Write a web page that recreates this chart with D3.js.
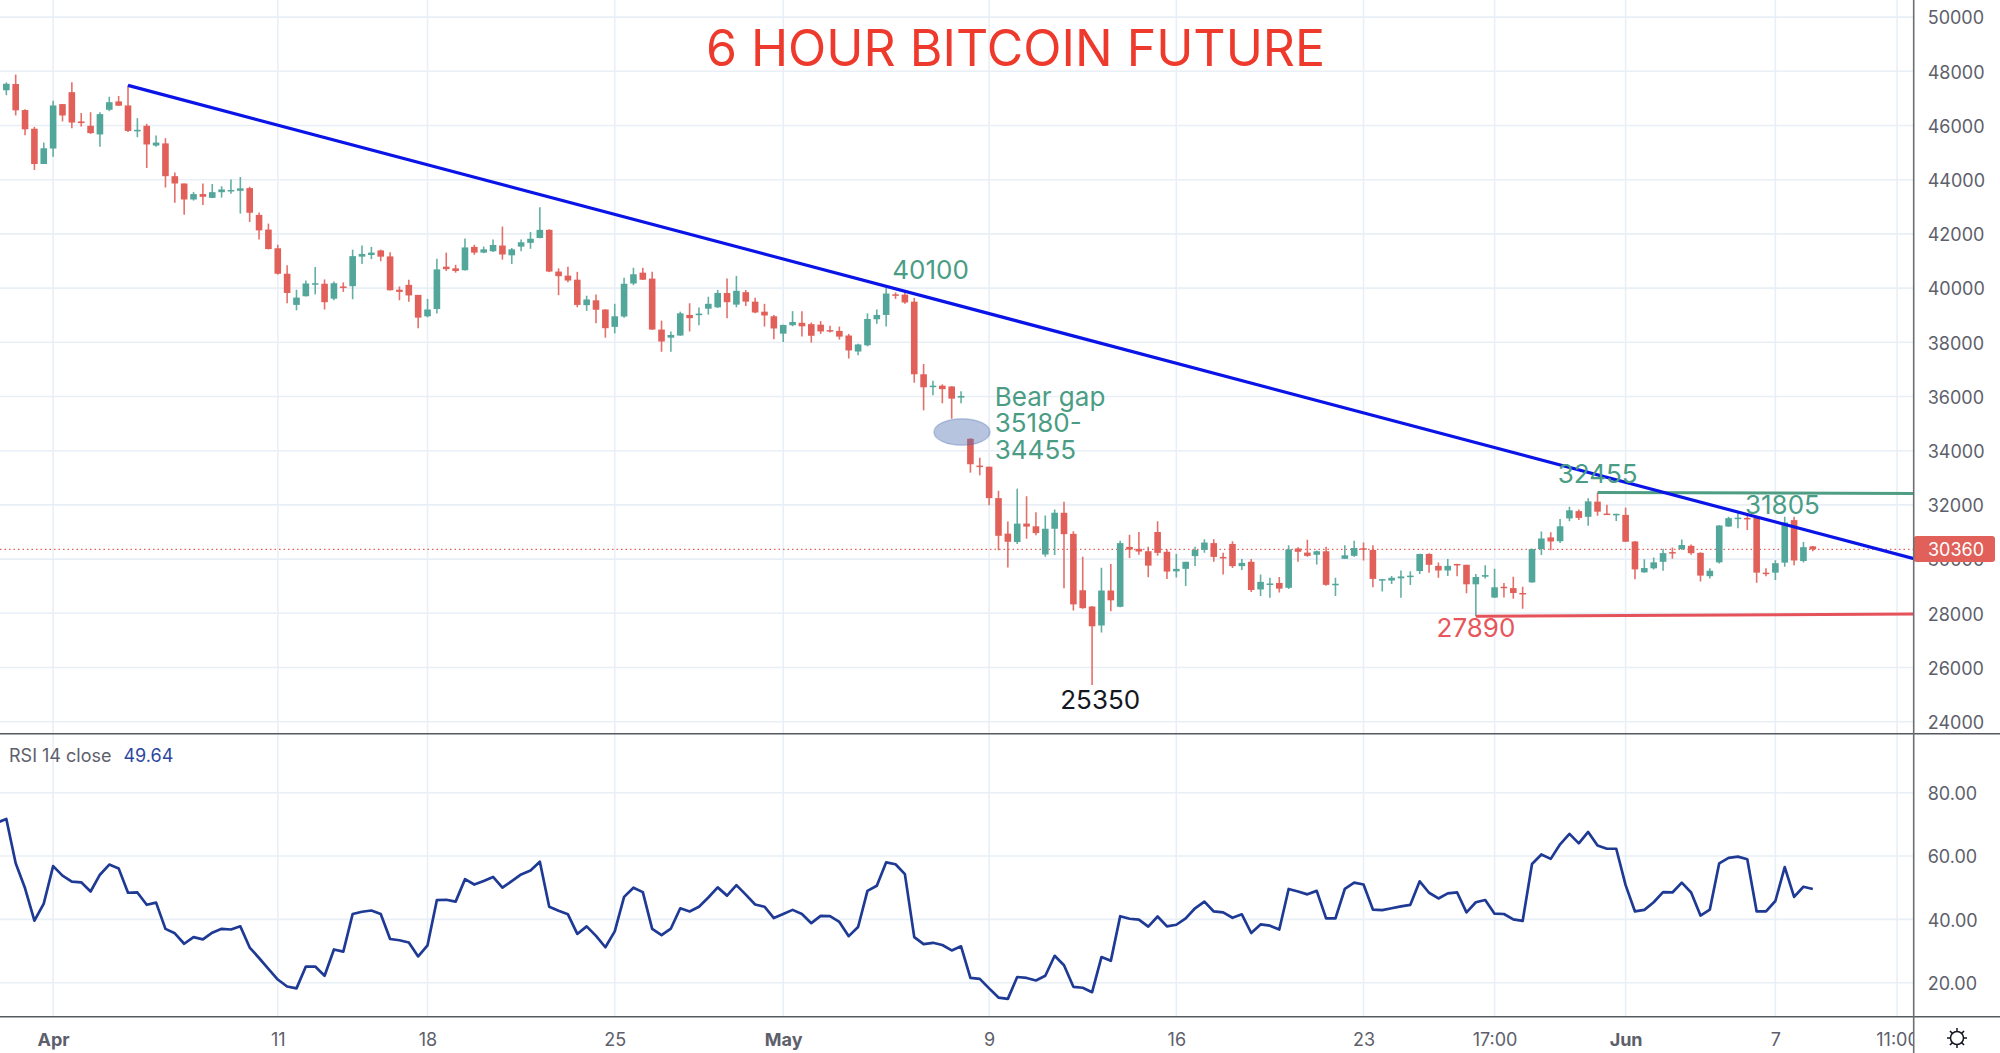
<!DOCTYPE html>
<html><head><meta charset="utf-8">
<script src="https://cdn.jsdelivr.net/npm/d3@7"></script>
<style>html,body{margin:0;padding:0;background:#fff;overflow:hidden}svg{display:block}text{font-family:Inter,"Liberation Sans",sans-serif}</style>
</head><body><svg id="c" width="2000" height="1053"></svg>
<script>
const opens=[47300,47530,46570,45880,44580,45150,46790,47230,46150,45990,
45670,46580,46890,46740,45800,45990,45260,45340,44130,43860,
43270,43470,43330,43540,43580,43590,43690,42700,42160,41470,
40530,39380,39700,40150,40160,39610,40060,40070,41160,41220,
41390,41170,39940,40120,39750,38960,39230,40790,40730,40660,
41520,41310,41360,41570,41210,41530,41670,41850,42150,40610,
40460,40310,39370,39550,39210,38570,38950,40170,40570,40350,
38470,38170,38250,39010,39000,39240,39290,39820,39390,39850,
39500,39130,38960,38320,38630,38720,38670,38650,38450,38420,
38250,37660,37890,38850,39010,39770,39760,39500,36820,36370,
36400,36370,35960,34440,33450,33410,32250,30940,30630,31310,
31210,30170,31120,31710,30930,28850,28250,27550,28840,28240,
30450,30380,30290,31000,30270,29550,29640,30110,30340,30590,
30080,30560,29740,29900,28880,29050,29120,28940,30390,30240,
30160,30290,29050,30010,30120,30400,30340,29220,29210,29290,
29340,29560,30190,29750,29580,29820,29790,29070,29350,28580,
28980,28930,28750,29140,30370,30800,30660,31500,31770,31560,
32120,31680,31630,31630,30650,29510,29660,29900,30260,30370,
30490,30230,29370,29880,31200,31500,31520,31520,29500,29500,
29870,31440,29930,30470];
const highs=[47590,47880,46600,45950,45370,46910,46790,47600,46460,46490,
46490,47060,47090,47480,46270,46060,45630,45530,44270,43860,
43550,43860,43840,43760,44010,44100,43740,42790,42380,41600,
40840,39940,40280,40780,40320,40240,40210,41420,41570,41520,
41420,41320,40060,40310,39750,39600,41080,41310,40860,41830,
41600,41530,41790,42270,41480,41790,42070,42980,42170,40730,
40790,40600,39720,39760,39220,39420,40380,40750,40750,40600,
38800,38400,39130,39440,39280,39680,39930,40350,40450,39930,
39640,39420,39010,38650,39150,39150,38730,38780,38610,38580,
38310,37950,39070,39210,40100,39840,39860,39640,37200,36580,
36450,36380,36190,34455,33740,33410,32520,31390,32600,32320,
31730,31610,31830,32120,31030,30090,28270,29680,29820,30680,
30900,31000,30460,31400,30360,30190,29900,30460,30730,30730,
30230,30660,30000,30000,29430,29310,29340,30510,30440,30710,
30320,30460,29310,30510,30680,30610,30510,29270,29380,29580,
29550,30200,30220,29870,30000,29830,29790,29450,29770,29640,
29120,29350,28980,30390,31020,30990,31480,31930,31830,32250,
32455,32010,31670,31900,30670,29990,30060,30380,30430,30720,
30540,30250,29660,31250,31560,31750,31620,31530,29660,29960,
31560,31560,30630,30480];
const lows=[47120,46370,45640,44360,44580,44850,46150,45900,45960,45690,
45220,46530,46730,45760,45570,44430,45220,43710,43150,42710,
43230,43070,43320,43340,43480,42750,42440,41790,41430,40500,
39440,39180,39690,39770,39210,39550,39860,39590,40890,41070,
40990,39910,39550,39500,38520,38920,39060,40630,40570,40650,
41230,41290,41330,41050,40890,41360,41450,41840,40590,39740,
40220,39290,39160,38700,38170,38330,38910,40110,40300,38460,
37650,37650,38240,38400,38630,39020,39270,38890,39290,39340,
39070,38580,38110,38010,38590,38210,37990,38310,38360,38100,
37400,37520,37850,38680,38580,39600,39420,36510,35490,36050,
35750,35180,35750,33190,33090,31990,30330,29690,30560,30750,
30880,30090,30150,28920,28100,28170,25350,27290,28080,28220,
30040,30160,29330,30120,29270,29320,29010,29750,30230,29900,
29430,29670,29600,28790,28640,28570,28770,28900,29900,30090,
29800,29020,28640,30000,30090,29950,28960,28800,29080,28570,
29040,29450,29500,29310,29380,29370,28740,27890,29280,28560,
28580,28540,28170,29130,30150,30330,30590,31400,31440,31230,
31600,31640,31410,30640,29260,29500,29620,29570,30010,30340,
30160,29170,29280,29840,31190,31140,31070,29130,29370,29230,
29720,29770,29870,30290];
const closes=[47540,46560,45860,44580,45160,46740,46370,46110,46090,45720,
46420,46860,46730,45800,45840,45300,45370,44130,43860,43270,
43470,43370,43540,43640,43620,43680,42780,42130,41440,40530,
39820,39650,40170,40180,39480,40180,40020,41180,41260,41310,
41160,39920,39860,39730,38910,39210,40690,40700,40630,41500,
41310,41430,41590,41240,41430,41690,41820,42150,40610,40440,
40280,39380,39580,39200,38520,38960,40160,40510,40310,38470,
38030,38270,39070,38890,39060,39420,39820,39480,39900,39500,
39100,38990,38510,38640,38750,38590,38240,38400,38410,38210,
37700,37920,38860,39010,39800,39720,39470,36820,36340,36400,
36270,35920,36020,33500,33400,32250,30860,30640,31310,31200,
30960,31120,31710,30920,28330,28190,27520,28840,28480,30590,
30350,30280,29760,30230,29540,29640,29900,30340,30610,30080,
30040,29740,29860,28860,29160,29100,28910,30360,30270,30120,
30290,29050,29090,30140,30410,30350,29270,29260,29310,29360,
29390,30190,29790,29580,29750,29770,29070,29340,29410,28960,
28940,28750,28710,30370,30760,30650,31210,31800,31520,32130,
31750,31660,31670,30640,29620,29670,29880,30220,30220,30520,
30220,29390,29570,31240,31510,31530,31480,29500,29460,29850,
31350,29950,30440,30360];
// RSI: first value belongs to the bar just before the first candle
const rsiStart=-1;
const rsi=[70.5,71.7,57.7,49.8,39.6,45.0,56.8,53.8,51.9,51.7,
48.8,54.1,57.3,56.1,48.4,48.5,44.6,45.3,37.0,35.6,
32.3,34.4,33.7,35.8,37.0,36.8,37.8,31.1,27.8,24.4,
21.0,18.8,18.2,25.1,25.1,22.2,30.5,29.8,41.7,42.4,
42.8,41.7,33.8,33.4,32.7,28.3,31.8,46.1,46.2,45.6,
52.7,51.0,52.1,53.4,50.0,52.1,54.2,55.4,58.2,44.0,
42.7,41.6,35.4,37.8,34.8,31.2,36.2,47.1,50.0,48.6,
37.0,35.0,37.1,43.5,42.5,44.0,
46.9,50.1,47.5,50.8,47.8,44.7,44.0,40.4,41.7,43.0,
41.7,38.8,41.1,41.0,39.2,34.7,37.6,49.0,50.6,58.0,
57.4,54.3,34.4,32.2,32.6,31.9,30.2,31.5,21.5,21.2,
18.2,15.3,14.9,21.8,21.5,20.7,22.2,28.5,25.5,18.7,
18.4,17.0,28.1,26.9,41.0,40.2,39.9,37.7,40.9,37.8,
38.3,40.3,43.5,45.6,42.5,42.2,40.5,41.6,35.7,38.4,
38.0,36.8,49.6,48.8,47.9,49.0,40.3,40.3,49.6,51.6,
51.0,43.1,42.9,43.5,
44.1,44.6,52.0,48.4,46.6,48.2,48.5,42.2,45.4,46.1,
41.8,41.7,40.0,39.5,57.5,60.5,59.1,63.7,67.0,64.0,
67.6,63.3,62.3,62.3,50.8,42.5,43.0,45.4,48.6,48.5,
51.6,48.5,41.2,43.1,57.7,59.4,59.8,59.0,42.5,42.5,
45.8,56.5,47.1,50.3,49.6];
const priceTicks=[50000,48000,46000,44000,42000,40000,38000,36000,34000,32000,30000,28000,26000,24000];
const rsiTicks=[80,60,40,20];
const timeIdx=[5,29,45,65,83,105,125,145,159,173,189,202];
const timeLabels=["Apr","11","18","25","May","9","16","23","17:00","Jun","7","11:00"];
const timeBold=["Apr","May","Jun"];
const trendIdx=[13,203.8], trendPrice=[47480,30015];
const greenIdx=[170,203.8], greenPrice=[32455,32420];
const redIdx=[157,203.8], redPrice=[27890,27975];
const gapIdx=102.1, gapPrice=34690, gapRxBars=3, gapRyPrice=490;
const lastPrice=30360, rsiLast="49.64", rsiName="RSI 14 close";
const title="6 HOUR BITCOIN FUTURE";
const notes=[
 {t:"40100",i:94.65,p:40325,c:"#4a9d84"},
 {t:"Bear gap",i:105.6,p:35650,c:"#4a9d84"},
 {t:"35180-",i:105.6,p:34690,c:"#4a9d84"},
 {t:"34455",i:105.6,p:33685,c:"#4a9d84"},
 {t:"32455",i:165.75,p:32820,c:"#4a9d84"},
 {t:"31805",i:185.75,p:31665,c:"#4a9d84"},
 {t:"27890",i:152.8,p:27110,c:"#e8555a"},
 {t:"25350",i:112.6,p:24460,c:"#131722"}
];

const W=2000,H=1053,axisX=1913.7,paneTop=733.7,paneBot=1016.7;
const x=d3.scaleLinear().domain([0,202]).range([6.33,1897.05]);
const y=d3.scaleLinear().domain([48000,28000]).range([71.3,613.3]);
const yr=d3.scaleLinear().domain([80,20]).range([792.7,982.7]);
const svg=d3.select("#c");
const defs=svg.append("defs");
defs.append("clipPath").attr("id","mainClip").append("rect").attr("x",0).attr("y",0).attr("width",axisX).attr("height",paneTop);
defs.append("clipPath").attr("id","rsiClip").append("rect").attr("x",0).attr("y",paneTop).attr("width",axisX).attr("height",paneBot-paneTop);
defs.append("clipPath").attr("id","timeClip").append("rect").attr("x",0).attr("y",paneBot).attr("width",axisX).attr("height",H-paneBot);
const gridC="#e9eff6";

// grids
const gv=svg.append("g").attr("stroke",gridC).attr("stroke-width",1.6);
gv.selectAll("line").data(timeIdx).join("line").attr("x1",d=>x(d)).attr("x2",d=>x(d)).attr("y1",0).attr("y2",paneBot);
const gh=svg.append("g").attr("stroke",gridC).attr("stroke-width",1.6);
gh.selectAll("line.p").data(priceTicks).join("line").attr("class","p").attr("x1",0).attr("x2",axisX).attr("y1",d=>y(d)).attr("y2",d=>y(d));
gh.selectAll("line.r").data(rsiTicks).join("line").attr("class","r").attr("x1",0).attr("x2",axisX).attr("y1",d=>yr(d)).attr("y2",d=>yr(d));

// last price dotted
svg.append("line").attr("x1",0).attr("x2",axisX).attr("y1",y(lastPrice)).attr("y2",y(lastPrice))
 .attr("stroke","#e8605a").attr("stroke-width",1.2).attr("stroke-dasharray","1.5 3");

// candles
const up="#53a69a",down="#e1605a";
const bars=d3.range(opens.length);
const gm=svg.append("g").attr("clip-path","url(#mainClip)");
gm.selectAll("line.w").data(bars).join("line").attr("class","w")
 .attr("x1",i=>x(i)).attr("x2",i=>x(i)).attr("y1",i=>y(highs[i])).attr("y2",i=>y(lows[i]))
 .attr("stroke",i=>closes[i]>=opens[i]?up:down).attr("stroke-width",1.6).attr("stroke-opacity",.9);
gm.selectAll("rect.b").data(bars).join("rect").attr("class","b")
 .attr("x",i=>x(i)-3.3).attr("width",6.6)
 .attr("y",i=>y(Math.max(opens[i],closes[i])))
 .attr("height",i=>Math.max(1.5,Math.abs(y(opens[i])-y(closes[i]))))
 .attr("fill",i=>closes[i]>=opens[i]?up:down);

// gap ellipse
gm.append("ellipse").attr("cx",x(gapIdx)).attr("cy",y(gapPrice))
 .attr("rx",x(gapIdx+gapRxBars)-x(gapIdx)).attr("ry",y(gapPrice-gapRyPrice)-y(gapPrice))
 .attr("fill","#4a6cb0").attr("fill-opacity",.4).attr("stroke","#4a6cb0").attr("stroke-opacity",.3).attr("stroke-width",1.5);

// annotation lines
const lineP=d3.line().x(d=>x(d[0])).y(d=>y(d[1]));
gm.append("path").attr("d",lineP(d3.zip(greenIdx,greenPrice))).attr("fill","none").attr("stroke","#4f9e83").attr("stroke-width",3);
gm.append("path").attr("d",lineP(d3.zip(redIdx,redPrice))).attr("fill","none").attr("stroke","#e5525a").attr("stroke-width",3);
gm.append("path").attr("d",lineP(d3.zip(trendIdx,trendPrice))).attr("fill","none").attr("stroke","#0a14e6").attr("stroke-width",3.2);

// RSI
svg.append("g").attr("clip-path","url(#rsiClip)").append("path")
 .attr("d",d3.line().x((d,i)=>x(i+rsiStart)).y(d=>yr(d))(rsi))
 .attr("fill","none").attr("stroke","#1e3a94").attr("stroke-width",2.7).attr("stroke-linejoin","round");

// notes and title
svg.selectAll("text.n").data(notes).join("text").attr("class","n")
 .attr("x",d=>x(d.i)).attr("y",d=>y(d.p)).attr("fill",d=>d.c).attr("font-size",26).text(d=>d.t);
svg.append("text").attr("x",1015.5).attr("y",66).attr("text-anchor","middle").attr("font-size",50).attr("fill","#ee3a2c").text(title);

// frame
svg.append("line").attr("x1",0).attr("x2",W).attr("y1",paneTop).attr("y2",paneTop).attr("stroke","#555a60").attr("stroke-width",1.6);
svg.append("line").attr("x1",0).attr("x2",W).attr("y1",paneBot).attr("y2",paneBot).attr("stroke","#555a60").attr("stroke-width",1.6);

// axes
const styleAxis=g=>{g.select(".domain").remove();g.selectAll("line").remove();
 g.selectAll("text").attr("fill","#5d606b").attr("font-size",18).style("font-family","Inter,sans-serif");};
svg.append("g").attr("transform",`translate(${axisX},1)`)
 .call(d3.axisRight(y).tickValues(priceTicks).tickSize(0).tickPadding(14).tickFormat(d3.format("d"))).call(styleAxis);
svg.append("g").attr("transform",`translate(${axisX},1)`)
 .call(d3.axisRight(yr).tickValues(rsiTicks).tickSize(0).tickPadding(14).tickFormat(d3.format(".2f"))).call(styleAxis);
const tx=svg.append("g").attr("clip-path","url(#timeClip)").append("g").attr("transform",`translate(0,${paneBot})`)
 .call(d3.axisBottom(x).tickValues(timeIdx).tickSize(0).tickPadding(17).tickFormat((d,i)=>timeLabels[i])).call(styleAxis);
tx.selectAll("text").attr("font-weight",(d,i)=>timeBold.includes(timeLabels[i])?700:400);

// last price tag
svg.append("rect").attr("x",axisX).attr("y",y(lastPrice)-13.3).attr("width",1995-axisX).attr("height",26).attr("rx",3).attr("fill","#e1605a");
svg.append("text").attr("x",1928).attr("y",y(lastPrice)+7).attr("fill","#fff").attr("font-size",18).text(lastPrice);
svg.append("line").attr("x1",axisX).attr("x2",axisX).attr("y1",0).attr("y2",H).attr("stroke","#6b6f76").attr("stroke-width",1.6);

// RSI legend
const leg=svg.append("text").attr("x",9).attr("y",762).attr("font-size",18);
leg.append("tspan").attr("fill","#5d606b").text(rsiName);
leg.append("tspan").attr("dx",12).attr("fill","#2b479f").text(rsiLast);

// settings icon
const sun=svg.append("g").attr("transform","translate(1957,1038)").attr("stroke","#131722").attr("stroke-width",1.5).attr("fill","none");
sun.append("circle").attr("r",6.5);
sun.selectAll("line").data(d3.range(8)).join("line")
 .attr("x1",d=>Math.cos(d*Math.PI/4)*6.5).attr("y1",d=>Math.sin(d*Math.PI/4)*6.5)
 .attr("x2",d=>Math.cos(d*Math.PI/4)*10).attr("y2",d=>Math.sin(d*Math.PI/4)*10);
</script></body></html>
